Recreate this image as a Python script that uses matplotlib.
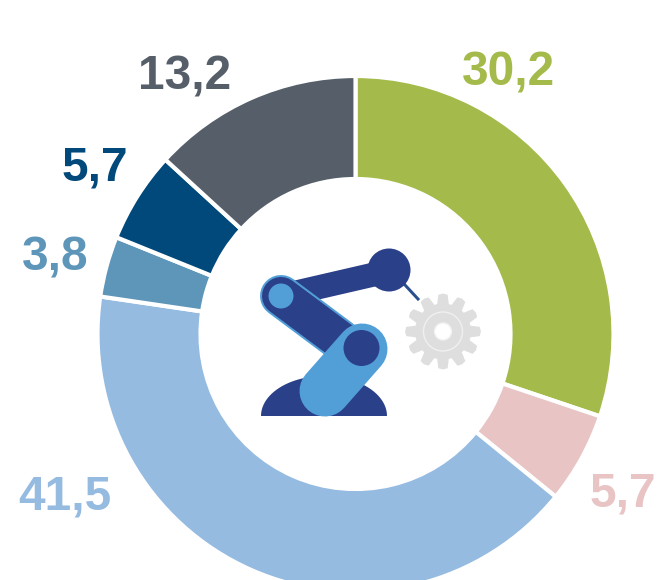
import numpy as np
import matplotlib
matplotlib.use("Agg")
import matplotlib.pyplot as plt
from matplotlib.patches import Circle, Polygon

values = [30.2, 5.7, 41.5, 3.8, 5.7, 13.2]
labels = ["30,2", "5,7", "41,5", "3,8", "5,7", "13,2"]
colors = ["#A4BB4B", "#E8C4C5", "#95BBE1", "#5E96B9", "#00497A", "#565F69"]
label_px = [(508, 73), (623, 494), (65, 497), (55, 258), (95, 168), (185, 77)]

W, H = 657, 580
plt.rcParams['font.family'] = ['Liberation Sans', 'DejaVu Sans']
fig = plt.figure(figsize=(W/100, H/100), dpi=100)
ax = fig.add_axes([0, 0, 1, 1])

cx, cy, r = 355.5, 334, 258
# The y axis runs downward, so counterclock=True draws clockwise on screen
ax.pie(values, colors=colors, startangle=270, counterclock=True, center=(cx, cy), radius=r,
       wedgeprops=dict(width=r-155, edgecolor='white', linewidth=3), frame=True)
ax.set_xlim(0, W)
ax.set_ylim(H, 0)
ax.set_aspect('equal')
ax.axis('off')

for t, c, (x, y) in zip(labels, colors, label_px):
    ax.text(x, y, t, color=c, fontsize=34.5, fontweight='bold', ha='center', va='center')

dark = "#2A4089"
mid = "#529FD8"
PX = 0.72  # points per pixel

# gear
gx, gy = 443, 331.5
n_teeth = 12
pts = []
for i in range(n_teeth):
    a0 = 2*np.pi*i/n_teeth
    step = 2*np.pi/n_teeth
    for da, rad in [(-0.5, 28), (-0.3, 37), (0.0, 38), (0.3, 37), (0.5, 28)]:
        a = a0 + da*step*0.8
        pts.append((gx + rad*np.cos(a), gy + rad*np.sin(a)))
ax.add_patch(Polygon(pts, fc="#DEDEDE", ec='none', zorder=3))
ax.add_patch(Circle((gx, gy), 19.5, fc='none', ec="#F0F0F0", lw=1.0, zorder=3))
ax.add_patch(Circle((gx, gy), 8.5, fc="#FFFFFF", ec="#F2F2F2", lw=1.0, zorder=3))

# tool tip
ax.plot([405, 418], [285, 299], color="#2A4F8F", lw=3*PX, zorder=4)

# base
th = np.linspace(np.pi, 2*np.pi, 60)
ax.add_patch(Polygon(np.c_[324+63*np.cos(th), 416+40*np.sin(th)], fc=dark, ec='none', zorder=4))

# upper arm
ax.plot([285, 389], [295, 271], color=dark, lw=24*PX, solid_capstyle='round', zorder=4)
ax.add_patch(Circle((389, 270), 21.5, fc=dark, ec='none', zorder=5))

# lower arm
ax.plot([281, 340], [296, 340], color=mid, lw=42*PX, solid_capstyle='round', zorder=5)
ax.plot([281, 340], [296, 340], color=dark, lw=38*PX, solid_capstyle='round', zorder=5)
ax.add_patch(Circle((281, 296), 12.5, fc=mid, ec='none', zorder=7))

# front arm
ax.plot([362, 325], [349, 391], color=mid, lw=51*PX, solid_capstyle='round', zorder=6)
ax.add_patch(Circle((361.5, 348), 18, fc=dark, ec='none', zorder=7))

fig.savefig("out.png", dpi=100)
